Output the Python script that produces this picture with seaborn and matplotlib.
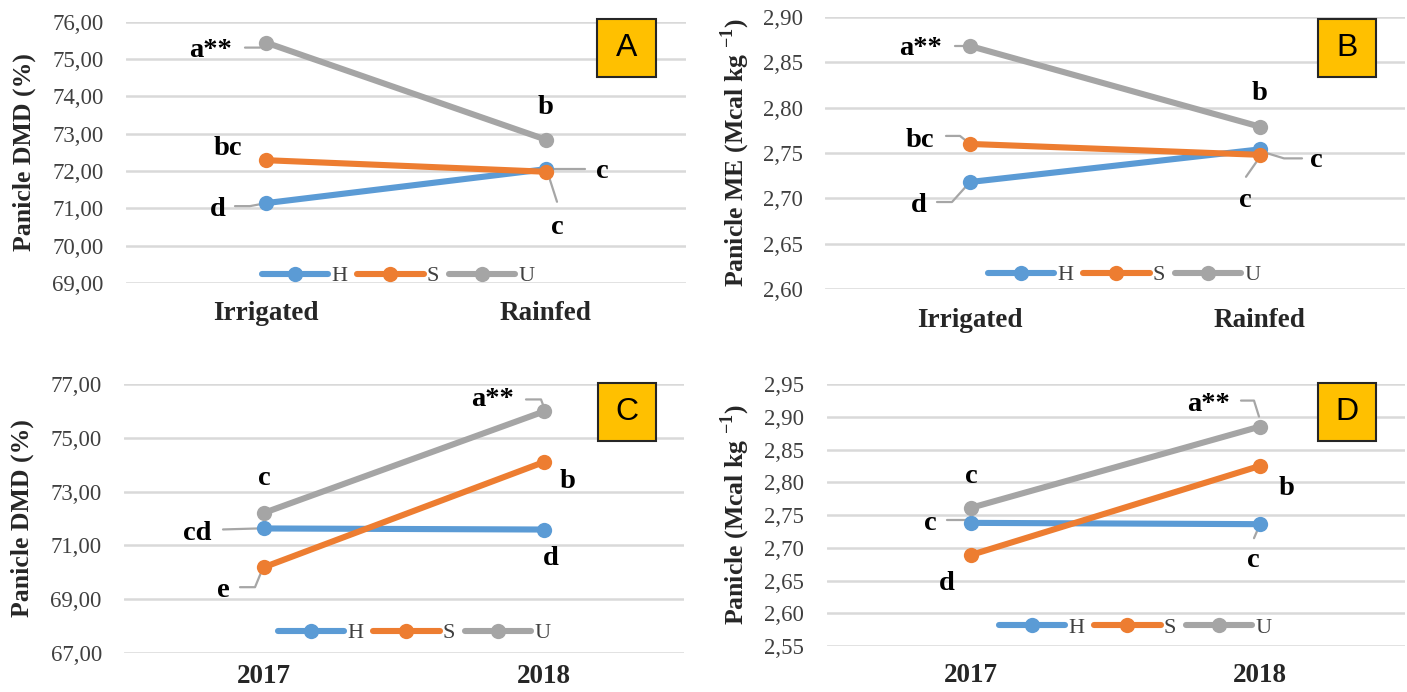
import matplotlib
matplotlib.use("Agg")
import matplotlib.pyplot as plt
import matplotlib.transforms as mtransforms
from matplotlib.lines import Line2D
from matplotlib.patches import Rectangle
from matplotlib.ticker import FuncFormatter
import numpy as np
import pandas as pd
import seaborn as sns

# ---------------------------------------------------------------- data
series = ["H", "S", "U"]
water_regimes = ["Irrigated", "Rainfed"]
years = ["2017", "2018"]

# Panicle DMD (%) by water regime
dmd_water_h = [71.14, 72.05]
dmd_water_s = [72.29, 71.98]
dmd_water_u = [75.44, 72.84]

# Panicle ME (Mcal kg-1) by water regime
me_water_h = [2.718, 2.754]
me_water_s = [2.760, 2.748]
me_water_u = [2.868, 2.779]

# Panicle DMD (%) by year
dmd_year_h = [71.63, 71.59]
dmd_year_s = [70.19, 74.10]
dmd_year_u = [72.21, 75.98]

# Panicle ME (Mcal kg-1) by year
me_year_h = [2.738, 2.736]
me_year_s = [2.689, 2.825]
me_year_u = [2.761, 2.885]

# mean-separation letters
letters_a = {"H": ["d", "c"], "S": ["bc", "c"], "U": ["a**", "b"]}
letters_b = {"H": ["d", "c"], "S": ["bc", "c"], "U": ["a**", "b"]}
letters_c = {"H": ["cd", "d"], "S": ["e", "b"], "U": ["c", "a**"]}
letters_d = {"H": ["c", "c"], "S": ["d", "b"], "U": ["c", "a**"]}

panel_names = ["A", "B", "C", "D"]
ylabels = ["Panicle DMD (%)",
           r"Panicle ME (Mcal kg $^{\mathbf{-1}}$)",
           "Panicle DMD (%)",
           r"Panicle (Mcal kg $^{\mathbf{-1}}$)"]

# ---------------------------------------------------------------- style
sns.set_theme(style="white")
plt.rcParams["font.family"] = ["Liberation Serif", "DejaVu Serif"]
plt.rcParams["mathtext.fontset"] = "custom"
plt.rcParams["mathtext.rm"] = "Liberation Serif"
plt.rcParams["mathtext.bf"] = "Liberation Serif:bold"

palette = {"H": "#5B9BD5", "S": "#ED7D31", "U": "#A5A5A5"}
leader_color = "#A6A6A6"
W, H = 1407, 692

# label placement: (text dx, text dy, leader path) in pixels from the point
place_a = {("U", 0): (-56, -14, [(-21, -5), (-6, -5), (0, 0)]),
           ("U", 1): (0, 26, None),
           ("S", 0): (-38, 5, None),
           ("H", 0): (-48, -13, [(-31, -3), (-16, -3), (0, 0)]),
           ("H", 1): (56, -9, [(0, 0), (39, 0)]),
           ("S", 1): (11, -62, [(2, -2), (11, -30)])}
place_b = {("U", 0): (-49, -9, [(-15, 0), (0, 0)]),
           ("U", 1): (0, 27, None),
           ("S", 0): (-50, -3, [(-24, 8), (-10, 8), (0, 0)]),
           ("H", 0): (-51, -30, [(-33, -20), (-18, -20), (0, 0)]),
           ("H", 1): (56, -18, [(1, -2), (24, -9), (42, -9)]),
           ("S", 1): (-15, -52, [(0, -2), (-14, -22)])}
place_c = {("U", 0): (0, 28, None),
           ("H", 0): (-67, -12, [(-41, -1), (-6, 0)]),
           ("S", 0): (-41, -30, [(-24, -20), (-9, -20), (-2, -3)]),
           ("U", 1): (-51, 5, [(-18, 12), (-3, 12), (0, 4)]),
           ("S", 1): (24, -26, None),
           ("H", 1): (7, -35, None)}
place_d = {("U", 0): (0, 25, None),
           ("H", 0): (-41, -7, [(-24, 3), (-3, 3)]),
           ("S", 0): (-24, -35, None),
           ("U", 1): (-52, 16, [(-19, 26), (-6, 26), (-1, 10)]),
           ("S", 1): (27, -29, None),
           ("H", 1): (-7, -43, [(0, 0), (-6, -14)])}

# axes frame in pixels: left, right, top, bottom
frames = [(126, 686, 21.7, 283), (825, 1405, 17, 289),
          (124, 684, 384, 653), (826.5, 1404.5, 384, 646)]
legend_centers = [(398, 276), (1124, 275), (414, 633), (1135, 628)]
ylabel_x = [24, 735, 22, 735]
xtick_pad = [13, 14, 8, 12]
boxes = [(597, 19, 656, 77), (1318, 19, 1376, 77),
         (598, 383, 656, 441), (1318, 383, 1376, 441)]

panels = [
    (water_regimes, {"H": dmd_water_h, "S": dmd_water_s, "U": dmd_water_u},
     letters_a, place_a, (69, 76), 1.0),
    (water_regimes, {"H": me_water_h, "S": me_water_s, "U": me_water_u},
     letters_b, place_b, (2.60, 2.90), 0.05),
    (years, {"H": dmd_year_h, "S": dmd_year_s, "U": dmd_year_u},
     letters_c, place_c, (67, 77), 2.0),
    (years, {"H": me_year_h, "S": me_year_s, "U": me_year_u},
     letters_d, place_d, (2.55, 2.95), 0.05),
]

fig = plt.figure(figsize=(W / 100, H / 100), dpi=100)

for k, (cats, values, letters, place, ylim, step) in enumerate(panels):
    left, right, top, bottom = frames[k]
    ax = fig.add_axes([left / W, 1 - bottom / H, (right - left) / W, (bottom - top) / H])

    df = pd.DataFrame([(c, s, values[s][i]) for s in series for i, c in enumerate(cats)],
                      columns=["category", "series", "value"])
    sns.lineplot(data=df, x="category", y="value", hue="series", hue_order=series,
                 palette=palette, marker="o", markersize=11, markeredgewidth=0,
                 linewidth=4.4, sort=False, legend=False, ax=ax, zorder=3)

    ax.set_xlim(-0.5, 1.5)
    ax.set_ylim(*ylim)
    ax.set_yticks(np.arange(ylim[0], ylim[1] + step / 2, step))
    ax.yaxis.set_major_formatter(FuncFormatter(lambda v, p: f"{v:.2f}".replace(".", ",")))
    ax.grid(axis="y", color="#D9D9D9", linewidth=1.8)
    ax.grid(axis="x", visible=False)
    for sp in ax.spines.values():
        sp.set_visible(False)
    ax.tick_params(axis="y", length=0, pad=16, labelsize=16.5, colors="#404040")
    ax.tick_params(axis="x", length=0, pad=xtick_pad[k], labelsize=19.5)
    for t in ax.get_xticklabels():
        t.set_fontweight("bold")
    ax.set_xlabel("")
    ax.set_ylabel(ylabels[k], fontsize=18.5, fontweight="bold", va="center")
    ax.yaxis.set_label_coords((ylabel_x[k] - left) / (right - left), 0.5)

    # letters with leader lines
    for s in series:
        for i in range(len(cats)):
            dx, dy, path = place[(s, i)]
            ax.annotate(letters[s][i], xy=(i, values[s][i]), xytext=(dx, dy),
                        textcoords="offset pixels", ha="center", va="baseline",
                        fontsize=20.5, fontweight="bold", color="black", zorder=5)
            if path:
                tr = mtransforms.IdentityTransform() + \
                    mtransforms.ScaledTranslation(i, values[s][i], ax.transData)
                ax.add_line(Line2D([p[0] for p in path], [p[1] for p in path],
                                   transform=tr, color=leader_color, lw=1.6, zorder=2))

    # legend
    handles = [Line2D([], [], color=palette[s], lw=4.4, marker="o", markersize=11,
                      markeredgewidth=0) for s in series]
    cx, cy = legend_centers[k]
    ax.legend(handles, series, loc="center", ncol=3, frameon=False,
              bbox_to_anchor=((cx - left) / (right - left), (bottom - cy) / (bottom - top)),
              handlelength=3.0, handletextpad=0.12, columnspacing=0.45,
              fontsize=16, borderpad=0, borderaxespad=0, labelcolor="#404040")

    # panel letter box
    x0, y0, x1, y1 = boxes[k]
    fig.add_artist(Rectangle((x0 / W, 1 - y1 / H), (x1 - x0) / W, (y1 - y0) / H,
                             transform=fig.transFigure, facecolor="#FFC000",
                             edgecolor="#262626", linewidth=1.5, zorder=6))
    fig.text((x0 + x1) / 2 / W, 1 - (y0 + y1) / 2 / H, panel_names[k],
             ha="center", va="center", fontsize=23, family="Liberation Sans",
             color="black", zorder=7)

fig.savefig("out.png", dpi=100, facecolor="white")
